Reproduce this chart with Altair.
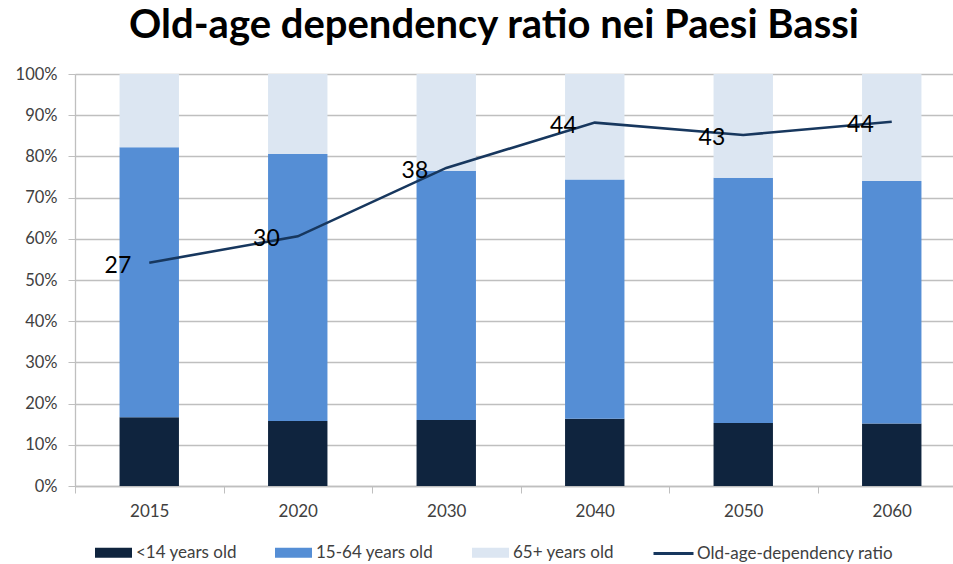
import altair as alt
import pandas as pd

years = ["2015", "2020", "2030", "2040", "2050", "2060"]
groups = ["<14 years old", "15-64 years old", "65+ years old"]
under14 = [16.7, 15.8, 16.0, 16.3, 15.3, 15.2]
age15_64 = [65.5, 64.8, 60.5, 58.1, 59.5, 58.8]
age65plus = [17.8, 19.4, 23.5, 25.6, 25.2, 26.0]
ratio = [27.1, 30.3, 38.6, 44.1, 42.6, 44.2]
ratio_labels = ["27", "30", "38", "44", "43", "44"]
line_name = "Old-age-dependency ratio"

bar_colors = ["#0F243E", "#558ED5", "#DCE6F2"]
line_color = "#17375E"
FONT = "Lato"

rows = []
for i, y in enumerate(years):
    for k, (g, vals) in enumerate(zip(groups, [under14, age15_64, age65plus])):
        rows.append({"year": y, "group": g, "value": vals[i], "ord": k})
df_bars = pd.DataFrame(rows)
df_line = pd.DataFrame({"year": years, "ratio": ratio, "label": ratio_labels,
                        "series": [line_name] * len(years)})

x_enc = alt.X("year:N", sort=years,
              scale=alt.Scale(range=[0, 891], paddingInner=0, paddingOuter=0),
              axis=alt.Axis(title=None, labelAngle=0, tickBand="extent", grid=False,
                            domainColor="#BFBFBF", domainWidth=1.3, tickColor="#BFBFBF",
                            tickSize=7, labelPadding=10, labelFont=FONT, labelFontSize=17,
                            labelColor="#404040"))

bars = alt.Chart(df_bars).mark_bar(width=alt.RelativeBandSize(0.4)).encode(
    x=x_enc,
    y=alt.Y("value:Q", stack="zero", scale=alt.Scale(domain=[0, 100], nice=False),
            axis=alt.Axis(title=None, values=list(range(0, 101, 10)),
                          labelExpr="datum.value + '%'", grid=True, gridColor="#BFBFBF",
                          gridWidth=1.3, domainColor="#BFBFBF", domainWidth=1.3,
                          tickColor="#BFBFBF", tickSize=7, labelPadding=11,
                          labelFont=FONT, labelFontSize=16.5, labelColor="#404040")),
    color=alt.Color("group:N", scale=alt.Scale(domain=groups, range=bar_colors),
                    legend=alt.Legend(title=None, orient="none", legendX=20, legendY=460,
                                      direction="horizontal", symbolType="M-1,-0.27H1V0.27H-1Z",
                                      symbolSize=1369, symbolStrokeWidth=0, labelFont=FONT,
                                      labelFontSize=17, labelColor="#404040", labelOffset=4,
                                      columnPadding=38, padding=0, labelLimit=300)),
    order=alt.Order("ord:Q", sort="ascending"),
)

line_base = alt.Chart(df_line).encode(
    x=alt.X("year:N", sort=years),
    y=alt.Y("ratio:Q", scale=alt.Scale(domain=[0, 50], nice=False), axis=None),
)

line = line_base.mark_line(strokeWidth=2.6).encode(
    stroke=alt.Stroke("series:N", scale=alt.Scale(domain=[line_name], range=[line_color]),
                      legend=alt.Legend(title=None, orient="none", legendX=577, legendY=458,
                                        symbolType="stroke", symbolSize=1600,
                                        symbolStrokeWidth=3, labelFont=FONT, labelFontSize=17,
                                        labelColor="#404040", labelOffset=2, padding=0,
                                        labelLimit=300))
)

labels = line_base.mark_text(align="right", baseline="middle", dx=-18, dy=3,
                             fontSize=23, font=FONT, color="#000000").encode(
    text="label:N"
)

chart = alt.layer(bars, line, labels).resolve_scale(y="independent").properties(
    width=878, height=412,
    autosize=alt.AutoSizeParams(type="none"),
    padding={"left": 75, "top": 74, "right": 0, "bottom": 78},
    title=alt.TitleParams("Old-age dependency ratio nei Paesi Bassi", font=FONT,
                          fontSize=40, fontWeight="bold", color="#000000",
                          anchor="middle", frame="group", dx=-20, offset=20),
).configure_view(stroke=None).configure(background="white")

chart.save("out.html", embed_options={"renderer": "svg", "actions": False})
